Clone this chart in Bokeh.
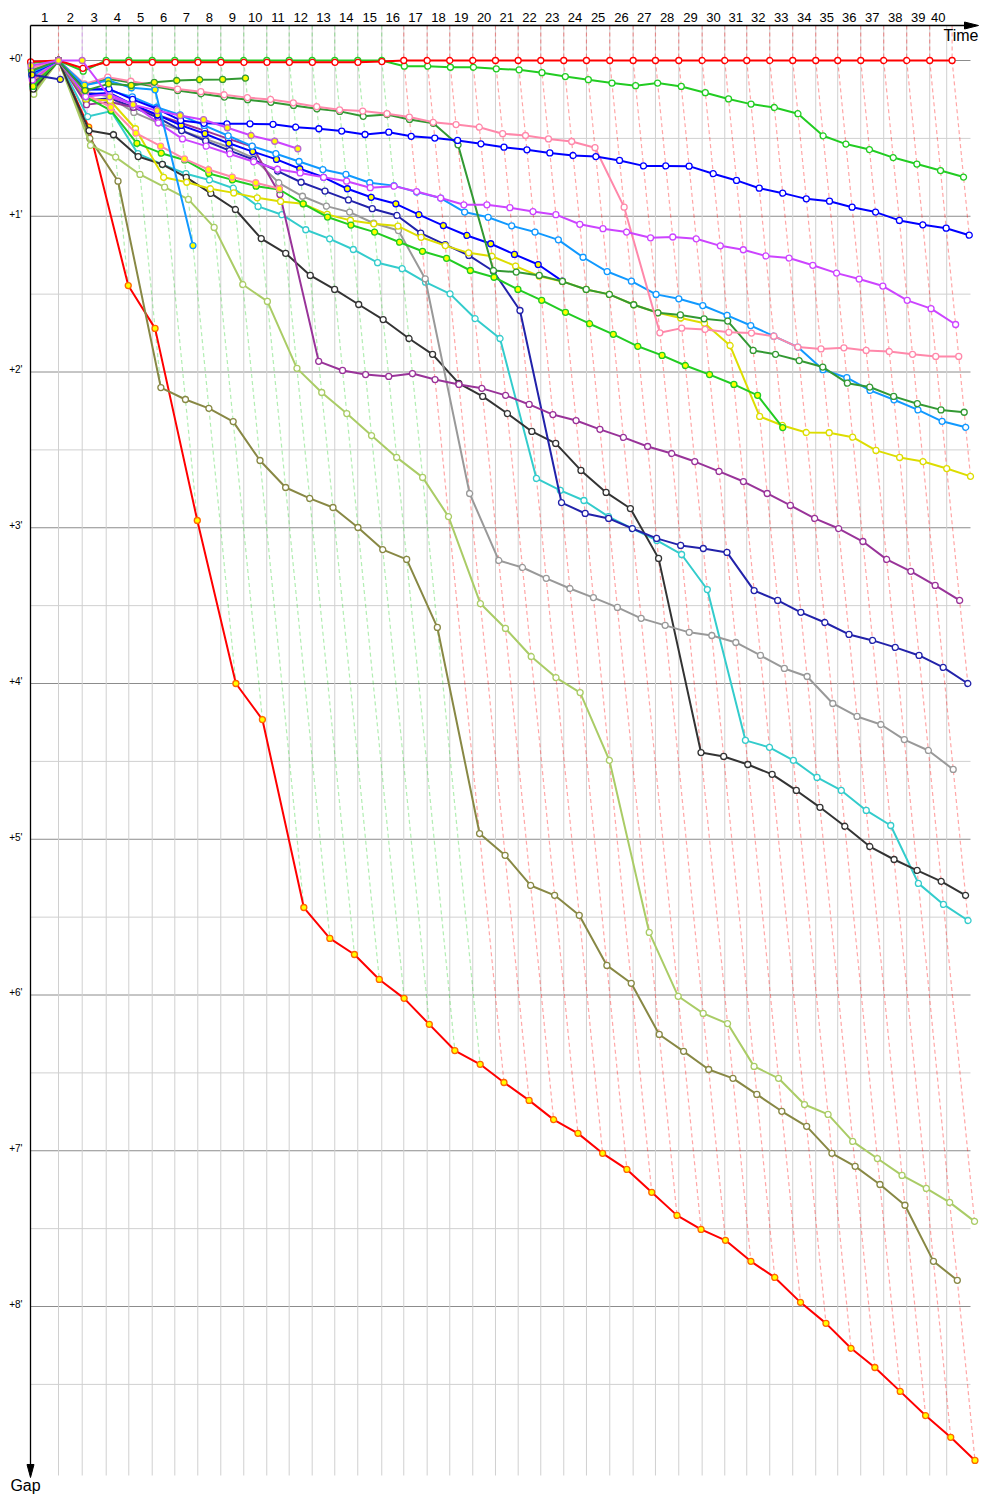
import numpy as np
from bokeh.plotting import figure
from bokeh.models import Range1d
from bokeh.core.properties import value
from bokeh.embed import file_html
from bokeh.resources import INLINE

# ---------------- data ----------------
# leader lap times (s), laps 1..40
leader_lap_times = [110.0, 93.1, 94.3, 88.8, 92.0, 88.8, 90.3, 90.4, 90.3, 90.4,
                    88.0, 90.4, 88.8, 90.3, 94.3, 86.5, 91.9, 88.8, 90.4, 89.2,
                    89.2, 88.8, 90.3, 89.2, 91.6, 91.9, 87.6, 91.6, 91.9, 88.8,
                    86.4, 90.4, 90.3, 90.4, 86.4, 90.4, 90.3, 90.4, 90.4, 88.0]
race_duration = 3600
lap_leaders = ["A", "S"] + ["B"] * 13 + ["A"] * 25
lap_labels = [str(n) for n in range(1, 41)]
gap_minutes = [0, 1, 2, 3, 4, 5, 6, 7, 8]
gap_labels = ["+0'", "+1'", "+2'", "+3'", "+4'", "+5'", "+6'", "+7'", "+8'"]

# gap to leader (s) per lap, index 0 = start
gap_A = [0.5, 0, 3.0, 0.7, 0.7, 0.7, 0.7, 0.7, 0.7, 0.7, 0.7, 0.7, 0.7, 0.7, 0.7, 0.4,
         0, 0, 0, 0, 0, 0, 0, 0, 0, 0, 0, 0, 0, 0, 0, 0, 0, 0, 0, 0, 0, 0, 0, 0, 0]
gap_B = [1.0, 0, 4.1, 0, 0, 0, 0, 0, 0, 0, 0, 0, 0, 0, 0, 0,
         2.2, 2.2, 2.6, 2.6, 3.2, 3.6, 4.7, 6.2, 7.4, 8.7, 9.7, 8.7, 10.0, 12.4, 14.8,
         16.8, 18.1, 20.5, 29.0, 32.2, 34.3, 37.4, 39.9, 42.4, 44.9]
gap_C = [5.0, 0, 11.3, 10.9, 15.0, 18.6, 23.1, 24.2, 24.4, 24.4, 24.6, 25.7, 26.3, 27.2,
         28.5, 27.6, 29.2, 29.9, 30.8, 32.1, 33.4, 34.4, 35.6, 36.6, 37.0, 38.5, 40.6,
         40.6, 40.7, 43.6, 46.2, 49.2, 51.1, 53.3, 54.2, 56.5, 58.4, 61.6, 63.3, 64.6, 67.3]
gap_D = [7.5, 0, 13.9, 13.0, 17.0, 24.0, 30.2, 33.0, 36.0, 39.0, 41.9, 43.3, 45.0, 46.5,
         49.0, 48.4, 50.5, 53.0, 55.6, 55.6, 56.7, 58.2, 59.4, 63.1, 64.8, 66.1, 68.3,
         68.0, 68.7, 71.4, 72.9, 75.3, 76.1, 78.9, 81.9, 84.2, 86.9, 92.4, 95.6, 101.7]
gap_E = [3.0, 0, 9.0, 6.4, 8.0, 9.5, 11.0, 12.0, 13.2, 14.3, 15.0, 16.3, 17.8, 19.0,
         19.5, 20.5, 21.8, 23.8, 24.7, 25.7, 28.2, 28.9, 30.2, 31.2, 33.6, 56.5, 104.9,
         103.1, 103.6, 104.7, 105.0, 106.2, 110.4, 111.1, 110.7, 111.7, 112.1, 113.2, 114.0, 114.0]
gap_F = [3.5, 0, 9.5, 7.0, 8.5, 10.0, 11.6, 12.8, 14.1, 15.1, 16.1, 17.3, 18.6, 19.6,
         21.5, 20.8, 22.7, 24.2, 32.5, 80.9, 81.5, 82.8, 85.1, 88.2, 90.1, 94.1, 97.2,
         98.0, 99.5, 100.4, 111.7, 113.2, 115.6, 118.1, 124.3, 125.8, 129.4, 132.2, 134.6, 135.5]
gap_G = [6.0, 0, 11.0, 11.5, 14.0, 18.0, 21.0, 25.0, 29.0, 33.0, 35.9, 38.9, 42.0, 43.9,
         47.1, 48.2, 50.7, 53.0, 58.4, 60.4, 63.7, 66.1, 69.1, 75.8, 81.3, 85.0, 90.1,
         91.8, 94.4, 98.2, 102.1, 106.2, 110.4, 119.1, 122.2, 127.1, 130.7, 134.6, 139.0, 141.3]
gap_H = [8.0, 0, 14.8, 15.4, 26.3, 45.0, 46.9, 49.4, 51.0, 52.9, 54.3, 55.2, 59.3, 61.6,
         62.9, 63.8, 68.1, 71.3, 74.1, 75.4, 79.2, 83.1, 85.1, 88.2, 90.1, 94.1, 97.2,
         99.2, 101.2, 109.8, 137.1, 140.6, 143.3, 143.4, 145.1, 150.2, 152.9, 154.5, 157.2, 160.2]
gap_I = [9.5, 0, 17.0, 16.0, 18.0, 21.0, 24.1, 27.0, 30.2, 33.1, 51.6, 115.9, 119.4,
         121.0, 121.7, 120.6, 122.9, 124.8, 126.3, 129.0, 132.5, 136.4, 138.7, 142.1,
         145.2, 148.7, 151.4, 154.5, 158.3, 162.2, 166.8, 171.4, 176.4, 180.3, 185.3,
         192.2, 196.8, 202.2, 208.0]
gap_J = [8.5, 0, 15.4, 14.5, 18.0, 22.0, 27.0, 31.0, 34.7, 38.2, 42.6, 46.9, 50.3, 53.7,
         57.1, 59.7, 66.5, 70.9, 75.1, 81.2, 96.3, 170.3, 174.5, 176.4, 180.3, 184.1,
         186.8, 188.0, 189.5, 204.2, 208.0, 212.6, 216.5, 221.1, 223.4, 226.1, 229.2, 233.8, 240.0]
gap_K = [9.0, 0, 12.0, 14.0, 20.0, 24.0, 27.0, 30.2, 33.4, 37.5, 47.1, 52.3, 56.1, 58.4,
         62.7, 65.5, 84.1, 166.8, 192.6, 195.3, 199.5, 203.4, 206.9, 210.7, 214.9, 217.6,
         220.3, 221.5, 224.2, 229.2, 234.2, 237.3, 247.7, 252.7, 255.8, 261.6, 265.8, 273.1]
gap_L = [11.0, 0, 27.0, 28.6, 37.0, 40.0, 45.0, 51.2, 57.4, 68.6, 74.3, 82.8, 88.2, 94.0,
         99.8, 107.1, 113.2, 124.4, 129.4, 136.0, 142.9, 147.5, 157.9, 166.4, 172.6, 191.8,
         266.6, 268.1, 271.2, 275.0, 281.2, 287.7, 295.0, 302.8, 307.8, 312.0, 316.2, 321.6]
gap_M = [10.5, 0, 21.6, 19.5, 35.9, 40.0, 43.6, 46.0, 49.2, 56.2, 59.4, 65.2, 68.7, 72.8,
         77.9, 80.2, 85.4, 89.9, 99.4, 107.1, 161.0, 165.6, 169.5, 175.7, 180.3, 184.9,
         190.3, 203.8, 261.9, 264.6, 269.6, 276.2, 281.2, 288.9, 294.7, 317.0, 325.1, 331.3]
gap_N = [13.0, 0, 32.7, 37.2, 43.9, 48.8, 53.5, 64.3, 86.3, 92.8, 118.6, 127.9, 136.0,
         144.5, 152.9, 160.6, 175.7, 209.2, 218.8, 229.6, 237.7, 243.5, 269.6, 335.9,
         360.5, 367.1, 371.0, 387.5, 392.1, 402.2, 406.0, 416.4, 423.0, 429.5, 434.5, 439.9, 447.2]
gap_O = [12.0, 0, 30.0, 46.5, 126.0, 130.6, 134.0, 139.1, 154.1, 164.5, 168.7, 172.2,
         179.9, 188.4, 192.2, 218.4, 297.8, 306.2, 317.8, 321.6, 329.3, 348.6, 355.5,
         375.2, 381.7, 388.7, 392.1, 398.3, 404.8, 410.6, 421.0, 426.0, 433.0, 441.0, 462.6, 469.9]
gap_P = [11.5, 0, 25.7, 86.7, 103.2, 177.2, 240.0, 253.9, 326.3, 338.2, 344.4, 354.0,
         361.3, 371.3, 381.4, 386.7, 393.7, 400.6, 408.0, 413.3, 421.0, 427.2, 436.0,
         444.9, 450.3, 454.5, 462.6, 468.8, 478.4, 486.5, 496.1, 503.5, 512.7, 522.0, 530.4, 539.3]
gap_Q = [4.0, 0, 11.6, 9.0, 9.6, 8.4, 7.7, 7.4, 7.3, 6.8]
gap_R = [4.5, 0, 9.5, 7.7, 10.5, 11.3, 71.3]
gap_S = [2.0, 0, 0, 14.0, 17.0, 19.3, 21.2, 22.8, 25.9, 28.9, 31.1, 34.0]
gap_U = [10.0, 0, 14.0, 19.3, 31.9, 35.7, 38.3, 43.5, 46.0, 48.4, 49.7, 55.2, 60.3, 63.4,
         66.1, 70.0, 73.5, 76.2, 80.9, 83.5, 88.2, 92.4, 97.0, 101.4, 105.5, 110.1, 113.6,
         117.5, 121.0, 124.8, 129.0, 141.4]
gap_V = [7.0, 0, 13.0, 18.0, 28.0, 33.0, 37.9, 42.0, 44.9, 47.1, 49.4]
gap_W = [5.5, 7.3]
gap_X = [6.5, 0, 13.0, 12.5, 17.0, 21.0, 25.0, 28.2, 31.9, 35.1, 38.1, 41.7, 45.0, 49.4,
         52.7, 55.2, 59.4, 63.6, 67.4, 70.6, 74.7, 78.6, 85.0]

gaps = {"A": gap_A, "B": gap_B, "C": gap_C, "D": gap_D, "E": gap_E, "F": gap_F,
        "G": gap_G, "H": gap_H, "I": gap_I, "J": gap_J, "K": gap_K, "L": gap_L,
        "M": gap_M, "N": gap_N, "O": gap_O, "P": gap_P, "Q": gap_Q, "R": gap_R,
        "S": gap_S, "U": gap_U, "V": gap_V, "W": gap_W, "X": gap_X}

# ---------------- styles ----------------
YEL = "#ffff00"
WHT = "#ffffff"
style = {
    "A": ("#ff0000", "#ff0000", WHT), "B": ("#22cc22", "#22cc22", WHT),
    "C": ("#0000ff", "#0000ff", WHT), "D": ("#cc44ff", "#cc44ff", WHT),
    "E": ("#ff88aa", "#ff88aa", WHT), "F": ("#339933", "#339933", WHT),
    "G": ("#1199ff", "#1199ff", WHT), "H": ("#dddd00", "#dddd00", WHT),
    "I": ("#993399", "#993399", WHT), "J": ("#2222aa", "#2222aa", WHT),
    "K": ("#999999", "#999999", WHT), "L": ("#333333", "#333333", WHT),
    "M": ("#33cccc", "#33cccc", WHT), "N": ("#aacc66", "#aacc66", WHT),
    "O": ("#888844", "#888844", WHT), "P": ("#ff0000", "#ff6600", YEL),
    "Q": ("#339933", "#339933", YEL), "R": ("#1199ff", "#1199ff", YEL),
    "S": ("#cc44ff", "#bb66cc", YEL), "U": ("#22cc22", "#22cc22", YEL),
    "V": ("#ff88aa", "#ff88aa", YEL), "W": ("#2222aa", "#2222aa", YEL),
    "X": ("#0000ff", "#0000ff", YEL),
}
draw_order = ["P", "O", "N", "M", "L", "K", "J", "I", "X", "H", "U", "G", "V",
              "F", "E", "D", "C", "R", "Q", "W", "B", "A", "S"]

# ---------------- geometry ----------------
W, H = 990, 1496
SX = 15.27 / 60.0      # px per second (time axis)
SY = 155.75 / 60.0     # px per second (gap axis)
OX, OY = 30.0, 60.0    # canvas px of (t=0, gap=0)

def tx(px):  # canvas px -> time
    return (px - OX) / SX

def gy(py):  # canvas px -> gap
    return (py - OY) / SY

FONT = value("Liberation Sans")

p = figure(width=W, height=H, output_backend="svg", toolbar_location=None,
           x_range=Range1d(tx(0), tx(W)), y_range=Range1d(gy(H), gy(0)),
           x_axis_type=None, y_axis_type=None, min_border=0)
p.outline_line_color = None
p.background_fill_color = "white"
p.border_fill_color = "white"

T = np.concatenate([[0.0], np.cumsum(leader_lap_times)])

g_top = gy(25)        # top axis line
g_bot = gy(1475)      # bottom of grid
t_right = tx(970)

# horizontal grid
for m in gap_minutes:
    p.line([0, t_right], [m * 60, m * 60], line_color="#8c8c8c", line_width=1)
for m in gap_minutes:
    p.line([0, t_right], [m * 60 + 30, m * 60 + 30], line_color="#d0d0d0", line_width=1)

# vertical grid at leader crossings and race end
vx = list(T[1:40]) + [race_duration]
p.multi_line([[v, v] for v in vx], [[g_top, g_bot]] * len(vx),
             line_color="#d0d0d0", line_width=1)

# lap lines (dashed), coloured by the lap leader
xs, ys, cs = [], [], []
for n in range(1, 41):
    gm = max(g[n] for g in gaps.values() if len(g) > n)
    xs.append([T[n], T[n], T[n] + gm])
    ys.append([g_top, 0, gm])
    cs.append(style[lap_leaders[n - 1]][0])
p.multi_line(xs, ys, line_color=cs, line_width=1.2, line_alpha=0.35, line_dash="4 3")

# series
for c in draw_order:
    g = np.array(gaps[c], dtype=float)
    laps = np.arange(len(g))
    x = T[laps] + g
    lc, mc, fc = style[c]
    p.line(x, g, line_color=lc, line_width=2)
    p.scatter(x, g, size=6, fill_color=fc, line_color=mc, line_width=1.3)

# axes
p.line([0, tx(966)], [g_top, g_top], line_color="black", line_width=1.3)
p.patch([tx(964), tx(978), tx(964)], [gy(21.5), g_top, gy(28.5)], color="black")
p.line([0, 0], [g_top, gy(1465)], line_color="black", line_width=1.3)
p.patch([tx(26.5), 0, tx(33.5)], [gy(1464), gy(1477), gy(1464)], color="black")

# lap labels
bounds = list(T[:40]) + [race_duration]
lx = [(bounds[i] + bounds[i + 1]) / 2 for i in range(40)]
p.text(x=lx, y=[gy(17)] * 40, text=lap_labels, text_font=FONT, text_font_size="13px",
       text_align="center", text_baseline="middle", text_color="black")

# gap labels
p.text(x=[tx(22)] * len(gap_minutes), y=[m * 60 - 0.8 for m in gap_minutes],
       text=gap_labels, text_font=FONT, text_font_size="10px",
       text_align="right", text_baseline="middle", text_color="black")

p.text(x=[tx(978)], y=[gy(35)], text=["Time"], text_font=FONT, text_font_size="16px",
       text_align="right", text_baseline="middle", text_color="black")
p.text(x=[tx(25)], y=[gy(1485)], text=["Gap"], text_font=FONT, text_font_size="16px",
       text_align="center", text_baseline="middle", text_color="black")

open("out.html", "w").write(file_html(p, INLINE))
